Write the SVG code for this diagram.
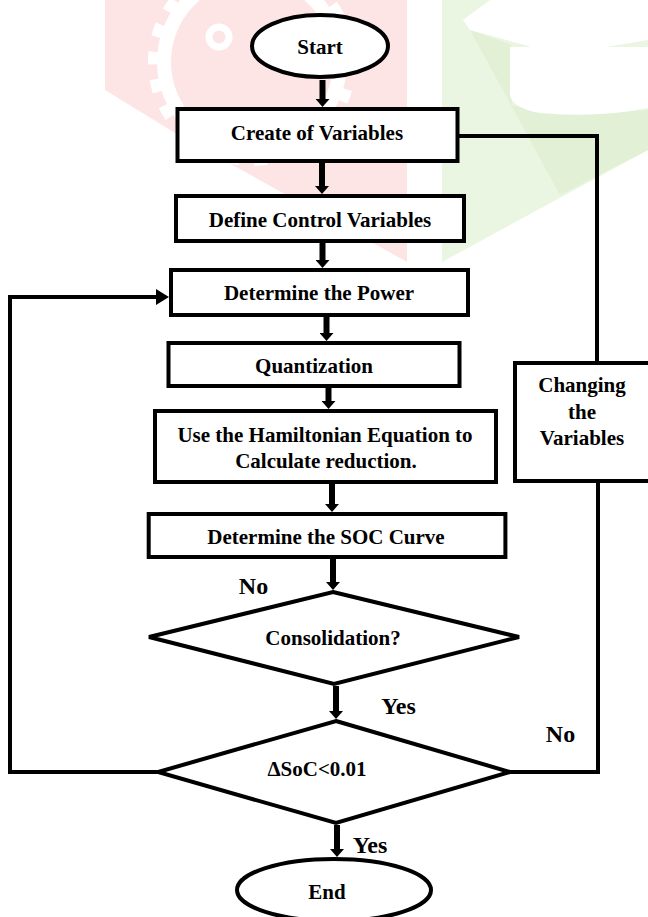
<svg xmlns="http://www.w3.org/2000/svg" width="648" height="917" viewBox="0 0 648 917">
<style>
.box{fill:#fff;stroke:#000;stroke-width:4}
.t{font-family:"Liberation Serif","Times New Roman",serif;font-weight:bold;font-size:21px;fill:#000;text-anchor:middle}
.lbl{font-family:"Liberation Serif","Times New Roman",serif;font-weight:bold;font-size:24px;fill:#000;text-anchor:middle}
.arr{fill:none;stroke:#000;stroke-width:6}
.ln{fill:none;stroke:#000;stroke-width:4}
</style>
<defs>
<marker id="ah" markerUnits="userSpaceOnUse" markerWidth="8" markerHeight="14" refX="1" refY="7" orient="auto">
<path d="M0,0 L8,7 L0,14 z" fill="#000"/>
</marker>
<marker id="ahh" markerUnits="userSpaceOnUse" markerWidth="13" markerHeight="16" refX="1" refY="8" orient="auto">
<path d="M0,0 L13,8 L0,16 z" fill="#000"/>
</marker>
<clipPath id="pinkclip"><polygon points="105,0 407,0 407,262 175,133 105,90"/></clipPath>
</defs>
<rect width="648" height="917" fill="#fff"/>
<g id="watermark">
<polygon points="105,0 407,0 407,262 175,133 105,90" fill="#fde5e5"/>
<g clip-path="url(#pinkclip)">
<circle cx="252" cy="62" r="88" fill="none" stroke="#fff" stroke-width="14"/>
<circle cx="252" cy="62" r="99" fill="none" stroke="#fff" stroke-width="10" stroke-dasharray="13 15"/>
</g>
<circle cx="219" cy="37" r="10" fill="none" stroke="#fff" stroke-width="7"/>
<polygon points="442,0 648,0 648,150 442,262" fill="#eaf6e1"/>
<polygon points="470,30 512,45 512,105 560,115 648,110 648,150 560,195" fill="#e2f0d6"/>
<polygon points="463,20 490,0 648,0 648,40 600,48 580,60 560,55 470,30" fill="#fff"/>
<path d="M510,47 L648,47 L648,108 Q600,118 540,113 Q512,108 510,95 Z" fill="#fff"/>
</g>
<g id="connectors">
<line class="arr" x1="322.5" y1="80" x2="322.5" y2="100" marker-end="url(#ah)"/>
<line class="arr" x1="322" y1="163" x2="322" y2="187" marker-end="url(#ah)"/>
<line class="arr" x1="322.5" y1="243" x2="322.5" y2="261" marker-end="url(#ah)"/>
<line class="arr" x1="326.5" y1="317" x2="326.5" y2="334" marker-end="url(#ah)"/>
<line class="arr" x1="328.5" y1="388" x2="328.5" y2="402" marker-end="url(#ah)"/>
<line class="arr" x1="332" y1="484" x2="332" y2="505" marker-end="url(#ah)"/>
<line class="arr" x1="333" y1="559" x2="333" y2="583" marker-end="url(#ah)"/>
<line class="arr" x1="336" y1="686" x2="336" y2="712" marker-end="url(#ah)"/>
<line class="arr" x1="337" y1="825" x2="337" y2="850" marker-end="url(#ah)"/>
<polyline class="ln" points="158,772 10,772 10,297 157,297" marker-end="url(#ahh)"/>
<polyline class="ln" points="459,136 597,136 597,363"/>
<polyline class="ln" points="510,772 598,772 598,481"/>
</g>
<g id="start">
<ellipse class="box" cx="320" cy="46" rx="68" ry="31"/>
<text class="t" x="320" y="54">Start</text>
</g>
<g id="create">
<rect class="box" x="177.5" y="109" width="280" height="52"/>
<text class="t" x="317" y="140">Create of Variables</text>
</g>
<g id="define">
<rect class="box" x="176" y="196" width="288" height="45"/>
<text class="t" x="320" y="227">Define Control Variables</text>
</g>
<g id="power">
<rect class="box" x="171" y="270" width="297" height="45"/>
<text class="t" x="319" y="300">Determine the Power</text>
</g>
<g id="quant">
<rect class="box" x="168.5" y="343" width="291" height="43"/>
<text class="t" x="314" y="373">Quantization</text>
</g>
<g id="hamiltonian">
<rect class="box" x="155" y="411" width="341" height="71"/>
<text class="t" x="325" y="442">Use the Hamiltonian Equation to</text>
<text class="t" x="326" y="468">Calculate reduction.</text>
</g>
<g id="soc">
<rect class="box" x="148.7" y="514" width="356.7" height="43"/>
<text class="t" x="326" y="544">Determine the SOC Curve</text>
</g>
<g id="changing">
<rect class="box" x="515" y="363" width="140" height="118"/>
<text class="t" x="582" y="392">Changing</text>
<text class="t" x="582" y="419">the</text>
<text class="t" x="582" y="445">Variables</text>
</g>
<g id="consolidation">
<polygon class="box" points="333,592 519,637 334,684 149,637"/>
<text class="t" x="333" y="645">Consolidation?</text>
</g>
<g id="dsoc">
<polygon class="box" points="336,721 510,772 336,823 158,772"/>
<text class="t" x="317" y="776">ΔSoC&lt;0.01</text>
</g>
<g id="end">
<ellipse class="box" cx="334" cy="890" rx="97" ry="31"/>
<text class="t" x="327" y="899">End</text>
</g>
<g id="labels">
<text class="lbl" x="253.5" y="594">No</text>
<text class="lbl" x="398.5" y="714">Yes</text>
<text class="lbl" x="560.5" y="742">No</text>
<text class="lbl" x="370" y="853">Yes</text>
</g>
</svg>
